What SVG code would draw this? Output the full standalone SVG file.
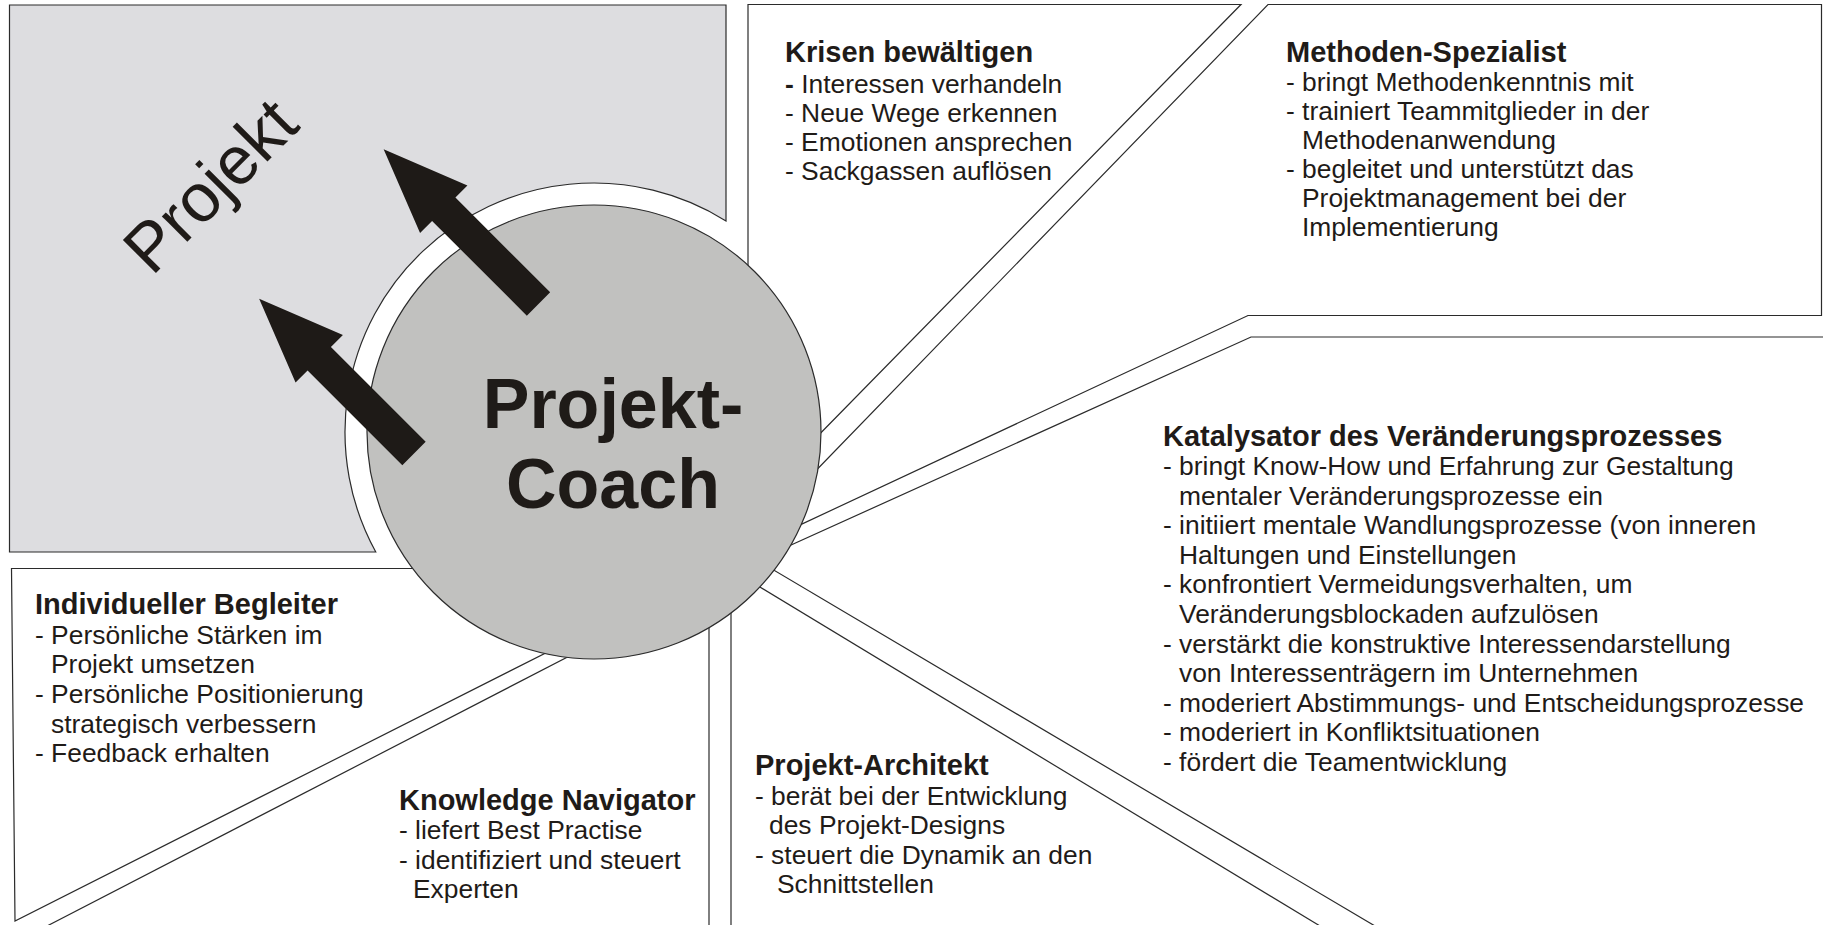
<svg xmlns="http://www.w3.org/2000/svg" width="1823" height="925" viewBox="0 0 1823 925">
<style>
.ln{fill:none;stroke:#2b2b2b;stroke-width:1.2}
.h{font-family:"Liberation Sans",Arial,sans-serif;font-weight:bold;font-size:29px;fill:#1f1b18}
.t{font-family:"Liberation Sans",Arial,sans-serif;font-size:26.4px;fill:#1f1b18}
.big{font-family:"Liberation Sans",Arial,sans-serif;font-weight:bold;font-size:70px;fill:#1f1b18}
.arrow{fill:#1e1a17}
</style>
<defs>
<path id="arrowShape" d="M0,-16.5 L134,-16.5 L134,-33.5 L219,0 L134,33.5 L134,16.5 L0,16.5 Z"/>
</defs>
<rect width="1823" height="925" fill="#ffffff"/>

<g id="projekt">
<path d="M9.5,5 H726 V220.9 A249,249 0 0 0 375.8,552 H9.5 Z" fill="#dddde0" stroke="#2b2b2b" stroke-width="1.2"/>
<text class="t" style="font-size:68px" transform="translate(152,277) rotate(-45)">Projekt</text>
</g>

<g id="krisen">
<polyline class="ln" points="748,280 748,4.5 1241,4.5 804,450"/>
<text class="h" x="785" y="62">Krisen bewältigen</text>
<text class="t" x="785" y="93"><tspan font-weight="bold">-</tspan> Interessen verhandeln</text>
<text class="t" x="785" y="122">- Neue Wege erkennen</text>
<text class="t" x="785" y="151">- Emotionen ansprechen</text>
<text class="t" x="785" y="180">- Sackgassen auflösen</text>
</g>

<g id="methoden">
<polyline class="ln" points="800,487 1268,4.5 1821.5,4.5 1821.5,315.5 1248,315.5 790,529.6"/>
<text class="h" x="1286" y="62">Methoden-Spezialist</text>
<text class="t" x="1286" y="91">- bringt Methodenkenntnis mit</text>
<text class="t" x="1286" y="120">- trainiert Teammitglieder in der</text>
<text class="t" x="1302" y="149">Methodenanwendung</text>
<text class="t" x="1286" y="178">- begleitet und unterstützt das</text>
<text class="t" x="1302" y="207">Projektmanagement bei der</text>
<text class="t" x="1302" y="236">Implementierung</text>
</g>

<g id="katalysator">
<polyline class="ln" points="780,550 1251,337 1830,337"/>
<polyline class="ln" points="755,559 1375,926"/>
<text class="h" x="1163" y="446">Katalysator des Veränderungsprozesses</text>
<text class="t" x="1163" y="475">- bringt Know-How und Erfahrung zur Gestaltung</text>
<text class="t" x="1179" y="504.6">mentaler Veränderungsprozesse ein</text>
<text class="t" x="1163" y="534.2">- initiiert mentale Wandlungsprozesse (von inneren</text>
<text class="t" x="1179" y="563.8">Haltungen und Einstellungen</text>
<text class="t" x="1163" y="593.4">- konfrontiert Vermeidungsverhalten, um</text>
<text class="t" x="1179" y="623">Veränderungsblockaden aufzulösen</text>
<text class="t" x="1163" y="652.6">- verstärkt die konstruktive Interessendarstellung</text>
<text class="t" x="1179" y="682.2">von Interessenträgern im Unternehmen</text>
<text class="t" x="1163" y="711.8">- moderiert Abstimmungs- und Entscheidungsprozesse</text>
<text class="t" x="1163" y="741.4">- moderiert in Konfliktsituationen</text>
<text class="t" x="1163" y="771">- fördert die Teamentwicklung</text>
</g>

<g id="architekt">
<polyline class="ln" points="731,600 731,930"/>
<polyline class="ln" points="740,575 1320,926"/>
<text class="h" x="755" y="775">Projekt-Architekt</text>
<text class="t" x="755" y="805">- berät bei der Entwicklung</text>
<text class="t" x="769" y="834">des Projekt-Designs</text>
<text class="t" x="755" y="864">- steuert die Dynamik an den</text>
<text class="t" x="777" y="893">Schnittstellen</text>
</g>

<g id="navigator">
<polyline class="ln" points="709,600 709,930"/>
<polyline class="ln" points="585,648 48,925.5"/>
<text class="h" x="399" y="810">Knowledge Navigator</text>
<text class="t" x="399" y="839">- liefert Best Practise</text>
<text class="t" x="399" y="869">- identifiziert und steuert</text>
<text class="t" x="413" y="898">Experten</text>
</g>

<g id="begleiter">
<polyline class="ln" points="440,568.5 11.5,568.5 15,921 570,640.7"/>
<text class="h" x="35" y="614">Individueller Begleiter</text>
<text class="t" x="35" y="644">- Persönliche Stärken im</text>
<text class="t" x="51" y="673">Projekt umsetzen</text>
<text class="t" x="35" y="703">- Persönliche Positionierung</text>
<text class="t" x="51" y="733">strategisch verbessern</text>
<text class="t" x="35" y="762">- Feedback erhalten</text>
</g>

<g id="coach">
<circle cx="594" cy="432" r="227" fill="#c1c1bf" stroke="#2b2b2b" stroke-width="1.2"/>
<text class="big" x="613" y="428" text-anchor="middle">Projekt-</text>
<text class="big" x="613" y="508" text-anchor="middle">Coach</text>
</g>

<g id="connectors">
<use href="#arrowShape" class="arrow" transform="translate(538.5,304) rotate(-135)"/>
<use href="#arrowShape" class="arrow" transform="translate(414,453.5) rotate(-135)"/>
</g>
</svg>
